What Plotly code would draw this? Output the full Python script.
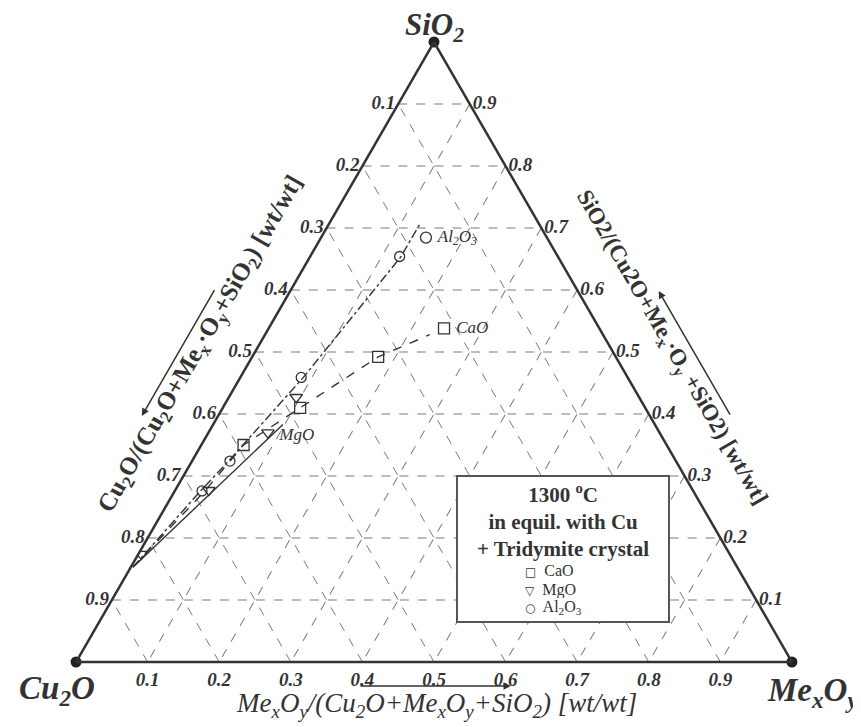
import plotly.graph_objects as go

# ternary composition, wt fractions: SiO2 (top), Cu2O (left), MexOy (right)
tick_vals = [0.1, 0.2, 0.3, 0.4, 0.5, 0.6, 0.7, 0.8, 0.9]
tick_labels = ["0.1", "0.2", "0.3", "0.4", "0.5", "0.6", "0.7", "0.8", "0.9"]

# measured points
cao_sio2 = [0.350, 0.410, 0.492]
cao_mexoy = [0.059, 0.108, 0.176]

mgo_sio2 = [0.174, 0.277, 0.370, 0.427]
mgo_mexoy = [0.004, 0.047, 0.083, 0.094]

al2o3_sio2 = [0.276, 0.324, 0.459, 0.654]
al2o3_mexoy = [0.038, 0.053, 0.085, 0.125]

# tridymite saturation curves
cao_line_sio2 = [0.153, 0.276, 0.350, 0.410, 0.492, 0.528]
cao_line_mexoy = [0.003, 0.042, 0.059, 0.108, 0.176, 0.230]

mgo_line_sio2 = [0.153, 0.383]
mgo_line_mexoy = [0.003, 0.0975]

al2o3_line_sio2 = [0.153, 0.276, 0.324, 0.459, 0.654, 0.709]
al2o3_line_mexoy = [0.003, 0.036, 0.051, 0.088, 0.127, 0.127]

# curve labels (SiO2, MexOy)
label_pos = {
    "CaO": (0.538, 0.245),
    "MgO": (0.365, 0.1015),
    "Al2O3": (0.6845, 0.1465),
}

corner_sio2 = [1, 0, 0]
corner_mexoy = [0, 0, 1]

legend_names = ["CaO", "MgO", "Al<sub>2</sub>O<sub>3</sub>"]
legend_glyphs = ["□", "▽", "○"]


def cu2o(sio2, mexoy):
    return [round(1 - s - m, 4) for s, m in zip(sio2, mexoy)]


INK = "#333333"
SERIF = "Liberation Serif"

fig = go.Figure()

# curves
for s, m, dash in [(cao_line_sio2, cao_line_mexoy, "dash"),
                   (mgo_line_sio2, mgo_line_mexoy, "solid"),
                   (al2o3_line_sio2, al2o3_line_mexoy, "dashdot")]:
    fig.add_trace(go.Scatterternary(a=s, b=cu2o(s, m), c=m, mode="lines",
                                    line=dict(color=INK, width=1.4, dash=dash),
                                    showlegend=False, hoverinfo="skip"))

# measured points
series = [
    (legend_names[0], cao_sio2, cao_mexoy, "square-open", 11),
    (legend_names[1], mgo_sio2, mgo_mexoy, "triangle-down-open", 11),
    (legend_names[2], al2o3_sio2, al2o3_mexoy, "circle-open", 10),
]
for name, s, m, sym, size in series:
    fig.add_trace(go.Scatterternary(a=s, b=cu2o(s, m), c=m, mode="markers", name=name,
                                    marker=dict(symbol=sym, size=size, color=INK,
                                                line=dict(width=1.3, color=INK)),
                                    showlegend=False))

# curve labels
label_font = dict(family=SERIF, size=17, color=INK, style="italic")
for key, text, sym in [("CaO", "CaO", "square-open"),
                       ("Al2O3", "Al<sub>2</sub>O<sub>3</sub>", "circle-open")]:
    s, m = label_pos[key]
    fig.add_trace(go.Scatterternary(a=[s], b=cu2o([s], [m]), c=[m], mode="markers+text",
                                    text=[" " + text], textposition="middle right",
                                    textfont=label_font,
                                    marker=dict(symbol=sym, size=11, color=INK, line=dict(width=1.3)),
                                    showlegend=False, hoverinfo="skip"))
s, m = label_pos["MgO"]
fig.add_trace(go.Scatterternary(a=[s], b=cu2o([s], [m]), c=[m], mode="text",
                                text=["MgO"], textposition="middle right", textfont=label_font,
                                showlegend=False, hoverinfo="skip"))

# corner dots
fig.add_trace(go.Scatterternary(a=corner_sio2, b=cu2o(corner_sio2, corner_mexoy), c=corner_mexoy,
                                mode="markers", marker=dict(size=11, color="#222222"),
                                cliponaxis=False, showlegend=False, hoverinfo="skip"))

tickfont = dict(family=SERIF, size=19, color=INK, weight="bold", style="italic")
axis_common = dict(tickmode="array", tickvals=tick_vals, ticktext=tick_labels[::-1],
                   ticks="", ticklen=0, tickfont=tickfont,
                   showgrid=True, gridcolor="#7a7a7a", griddash="dash", gridwidth=1,
                   linecolor=INK, linewidth=2.5, showline=True, title=dict(text=""))

fig.update_layout(
    width=861, height=727,
    margin=dict(l=68, r=77, t=34, b=73),
    paper_bgcolor="white",
    showlegend=False,
    ternary=dict(sum=1, bgcolor="white", domain=dict(x=[0, 1], y=[0, 1]),
                 aaxis=axis_common, baxis=axis_common, caxis=axis_common),
)

# legend box: frame, heading and entries
fig.add_shape(type="rect", xref="paper", yref="paper", x0=0.5321, x1=0.8282, y0=0.0645, y1=0.30,
              fillcolor="white", line=dict(color="#555555", width=2), layer="above")
fig.add_annotation(text="<b>1300 <sup>o</sup>C<br>in equil. with Cu<br>+ Tridymite crystal</b>",
                   xref="paper", yref="paper", x=0.6802, y=0.229, xanchor="center", yanchor="middle",
                   align="center", showarrow=False,
                   font=dict(family=SERIF, size=21, color=INK))
for name, glyph, y in zip(legend_names, legend_glyphs, [0.1468, 0.1169, 0.0871]):
    fig.add_annotation(text=f"<span style='font-size:12px;font-family:DejaVu Sans'>{glyph}</span>  {name}",
                       xref="paper", yref="paper", x=0.6243, y=y, xanchor="left", yanchor="middle",
                       height=17, valign="middle", showarrow=False,
                       font=dict(family=SERIF, size=16, color=INK))

# corner labels
corner_font = dict(family=SERIF, size=31, color=INK, weight="bold", style="italic")
for text, x, y in [("SiO<sub>2</sub>", 0.5, 1.024),
                   ("Cu<sub>2</sub>O", -0.0265, -0.0452),
                   ("Me<sub>x</sub>O<sub>y</sub>", 1.028, -0.0484)]:
    fig.add_annotation(text=text, xref="paper", yref="paper", x=x, y=y,
                       xanchor="center", yanchor="middle", showarrow=False,
                       font=dict(corner_font, size=33) if y < 0 else corner_font)

# edge titles
fig.add_annotation(text="<b>Cu<sub>2</sub>O/(Cu<sub>2</sub>O+Me<sub>x</sub>·O<sub>y</sub>+SiO<sub>2</sub>) [wt/wt]</b>",
                   xref="paper", yref="paper", x=0.1745, y=0.5124, textangle=-60,
                   xanchor="center", yanchor="middle", showarrow=False,
                   font=dict(family=SERIF, size=25, color=INK))
fig.add_annotation(text="<b>SiO2/(Cu2O+Me<sub>x</sub>·O<sub>y</sub> +SiO2) [wt/wt]</b>",
                   xref="paper", yref="paper", x=0.831, y=0.5056, textangle=60,
                   xanchor="center", yanchor="middle", showarrow=False,
                   font=dict(family=SERIF, size=23, color=INK))
fig.add_annotation(text="<i>Me<sub>x</sub>O<sub>y</sub>/(Cu<sub>2</sub>O+Me<sub>x</sub>O<sub>y</sub>+SiO<sub>2</sub>) [wt/wt]</i>",
                   xref="paper", yref="paper", x=0.5028, y=-0.0694,
                   xanchor="center", yanchor="middle", showarrow=False,
                   font=dict(family=SERIF, size=27, color=INK))

# direction arrows
for x, y, ax, ay in [(0.0919, 0.3968, 73.5, -127.3),
                     (0.8137, 0.5984, 72.3, 125.1),
                     (0.6075, -0.0387, -152, 0)]:
    fig.add_annotation(text="", xref="paper", yref="paper", x=x, y=y, ax=ax, ay=ay,
                       showarrow=True, arrowhead=2, arrowsize=1, arrowwidth=1.5,
                       arrowcolor=INK)

fig.write_html("out.html")
